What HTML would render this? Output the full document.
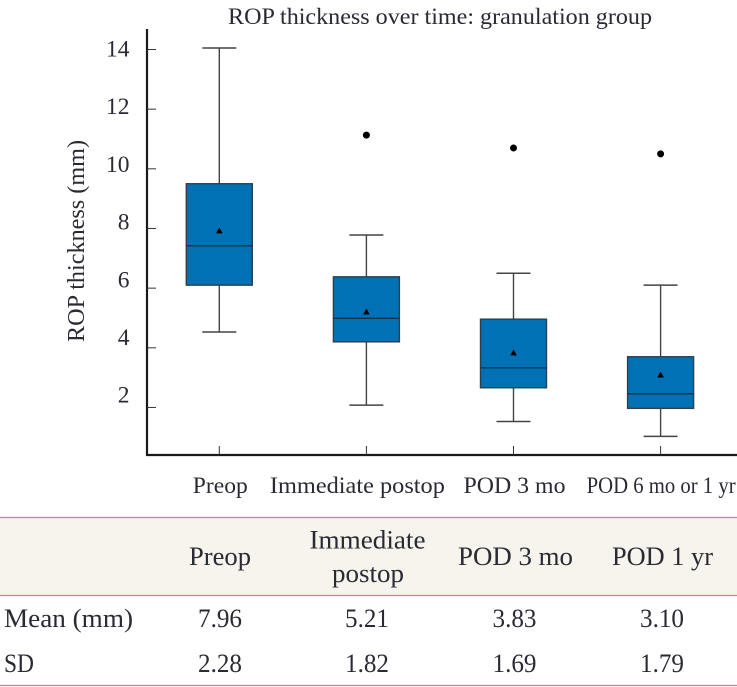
<!DOCTYPE html>
<html>
<head>
<meta charset="utf-8">
<style>
html,body{margin:0;padding:0;background:#fff;width:737px;height:687px;overflow:hidden}
svg{display:block}
text{font-family:"Liberation Serif",serif;fill:#2a2a35}
</style>
</head>
<body>
<svg id="chart" width="737" height="687" viewBox="0 0 737 687" xmlns="http://www.w3.org/2000/svg">
  <text x="440" y="24" font-size="23" text-anchor="middle" textLength="424" lengthAdjust="spacingAndGlyphs">ROP thickness over time: granulation group</text>
  <text transform="translate(84,241) rotate(-90)" font-size="24" text-anchor="middle" textLength="202" lengthAdjust="spacingAndGlyphs">ROP thickness (mm)</text>
  <g id="plot"></g>

  <rect x="0" y="517" width="737" height="78" fill="#f7f4ed"/>
  <line x1="0" x2="737" y1="517.5" y2="517.5" stroke="#b8925f" stroke-width="1.2"/>
  <line x1="0" x2="737" y1="595.5" y2="595.5" stroke="#b8925f" stroke-width="1.2"/>
  <line x1="0" x2="737" y1="685.5" y2="685.5" stroke="#b8925f" stroke-width="1.2"/>
  <g font-size="26.5" text-anchor="middle">
    <text x="220" y="565" textLength="62" lengthAdjust="spacingAndGlyphs">Preop</text>
    <text x="367.5" y="548.5" textLength="116" lengthAdjust="spacingAndGlyphs">Immediate</text>
    <text x="368" y="582" textLength="72" lengthAdjust="spacingAndGlyphs">postop</text>
    <text x="515.5" y="565" textLength="115" lengthAdjust="spacingAndGlyphs">POD 3 mo</text>
    <text x="662.5" y="565" textLength="101" lengthAdjust="spacingAndGlyphs">POD 1 yr</text>
    <text x="4" y="627" text-anchor="start" textLength="129" lengthAdjust="spacingAndGlyphs">Mean (mm)</text>
    <text x="220" y="627" textLength="44" lengthAdjust="spacingAndGlyphs">7.96</text>
    <text x="367" y="627" textLength="44" lengthAdjust="spacingAndGlyphs">5.21</text>
    <text x="514.5" y="627" textLength="44" lengthAdjust="spacingAndGlyphs">3.83</text>
    <text x="662" y="627" textLength="44" lengthAdjust="spacingAndGlyphs">3.10</text>
    <text x="4" y="672" text-anchor="start" textLength="30" lengthAdjust="spacingAndGlyphs">SD</text>
    <text x="220" y="672" textLength="44" lengthAdjust="spacingAndGlyphs">2.28</text>
    <text x="367" y="672" textLength="44" lengthAdjust="spacingAndGlyphs">1.82</text>
    <text x="514.5" y="672" textLength="44" lengthAdjust="spacingAndGlyphs">1.69</text>
    <text x="662" y="672" textLength="44" lengthAdjust="spacingAndGlyphs">1.79</text>
  </g>
</svg>
<script>
const categories = ["Preop", "Immediate postop", "POD 3 mo", "POD 6 mo or 1 yr"];
const whiskerLow = [4.53, 2.08, 1.53, 1.03];
const q1 = [6.10, 4.20, 2.66, 1.97];
const median = [7.42, 4.99, 3.33, 2.46];
const q3 = [9.50, 6.38, 4.96, 3.70];
const whiskerHigh = [14.05, 7.78, 6.50, 6.10];
const means = [7.93, 5.21, 3.84, 3.10];
const outliers = [null, 11.13, 10.70, 10.50];
const yTicks = [2, 4, 6, 8, 10, 12, 14];

const SVGNS = "http://www.w3.org/2000/svg";
const plot = document.getElementById("plot");
const yScale = v => 49.5 + (14 - v) * 29.83;
const yLabelBaseline = v => 56.5 + (14 - v) * 28.85;
const xScale = i => 219.3 + i * 147.1;
const xLabelCenterOffset = i => [1, -9, 1, 0.5][i];
const xLabelWidth = i => [55, 175, 102, 149][i];

function mk(tag, attrs, parent) {
  const el = document.createElementNS(SVGNS, tag);
  for (const k in attrs) el.setAttribute(k, attrs[k]);
  (parent || plot).appendChild(el);
  return el;
}

const axisY = mk("line", {x1:147, x2:147, y1:29, y2:456, stroke:"#1a1a1a", "stroke-width":2.2});


const axisX = mk("line", {x1:146, x2:737, y1:455, y2:455, stroke:"#1a1a1a", "stroke-width":2.2});



yTicks.forEach(t => {
  const y = yScale(t);
  const tick = mk("line", {x1:147, x2:156, y1:y, y2:y, stroke:"#333", "stroke-width":1});
  
  
  const label = mk("text", {x:129.5, y:yLabelBaseline(t), "font-size":23.5, "text-anchor":"end"});
  label.textContent = t;
  
  
});

categories.forEach((c, i) => {
  const x = xScale(i);
  const tick = mk("line", {x1:x, x2:x, y1:446, y2:455, stroke:"#333", "stroke-width":1});
  
  
  const label = mk("text", {x:x + xLabelCenterOffset(i), y:493, "font-size":23.5, "text-anchor":"middle", textLength:xLabelWidth(i), lengthAdjust:"spacingAndGlyphs"});
  label.textContent = c;
  
  

  const whisker = mk("line", {x1:x, x2:x, y1:yScale(whiskerHigh[i]), y2:yScale(whiskerLow[i]), stroke:"#444", "stroke-width":1.4});
  
  
  [whiskerHigh[i], whiskerLow[i]].forEach(v => {
    const cap = mk("line", {x1:x - 17, x2:x + 17, y1:yScale(v), y2:yScale(v), stroke:"#444", "stroke-width":1.5});
    
    
  });

  const box = mk("rect", {x:x - 33, width:66, y:yScale(q3[i]), height:yScale(q1[i]) - yScale(q3[i]), fill:"#0071b5", stroke:"#2d3f4c", "stroke-width":1.4});
  
  
  const med = mk("line", {x1:x - 33, x2:x + 33, y1:yScale(median[i]), y2:yScale(median[i]), stroke:"#17324a", "stroke-width":1.4});
  
  

  const my = yScale(means[i]);
  const mean = mk("path", {d:"M" + x + " " + (my - 3.2) + "l3.3 6h-6.6z", fill:"#000"});
  
  

  if (outliers[i] !== null) {
    const o = mk("circle", {cx:x, cy:yScale(outliers[i]), r:3.5, fill:"#000"});
    
    
  }
});
</script>
</body>
</html>
